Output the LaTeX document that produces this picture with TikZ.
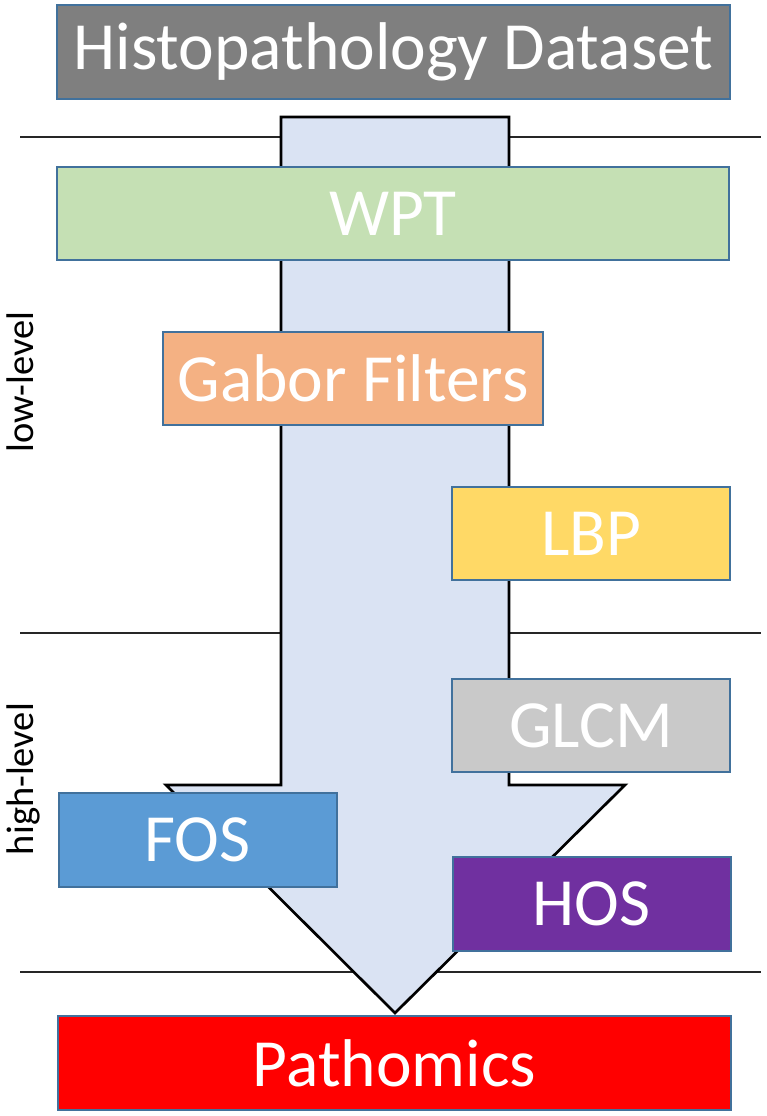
\documentclass[tikz,border=0pt]{standalone}
\usepackage{fontspec}
\setmainfont{Carlito}
\usepackage{tikz}
\usetikzlibrary{positioning}
\definecolor{boxborder}{RGB}{65,113,156}
\definecolor{datagray}{RGB}{127,127,127}
\definecolor{wptgreen}{RGB}{197,224,180}
\definecolor{gaborpeach}{RGB}{244,177,131}
\definecolor{lbpyellow}{RGB}{255,217,102}
\definecolor{glcmgray}{RGB}{201,201,201}
\definecolor{fosblue}{RGB}{91,155,213}
\definecolor{hospurple}{RGB}{112,48,160}
\definecolor{pathored}{RGB}{255,0,0}
\definecolor{flowblue}{RGB}{218,227,243}

\begin{document}
\begin{tikzpicture}[x=1pt, y=-1pt,
    featbox/.style={draw=boxborder, line width=2pt, inner sep=0pt,
        text=white, font=\fontsize{67.5}{70}\selectfont, minimum height=93},
    widebox/.style={featbox, minimum width=673},
    smallbox/.style={featbox, minimum width=278},
    levellbl/.style={font=\fontsize{38.5}{40}\selectfont, rotate=90, anchor=base}]

\useasboundingbox (0,0) rectangle (766,1116);

% === level separators ===
\foreach \ly in {137, 633, 972} {
    \draw[black!85, line width=1.3pt] (20,\ly) -- (761,\ly);
}
\node[levellbl] (low) at (33,382) {low-level};
\node[levellbl] (high) at (33,779) {high-level};

% === big flow arrow ===
\draw[fill=flowblue, line width=2.7pt, line join=miter]
    (281,117) -- (509,117) -- (509,785) -- (625,785) -- (395,1013)
    -- (166,785) -- (281,785) -- cycle;

% === feature boxes ===
\node[widebox, fill=datagray] (data) at (393.5,52) {Histopathology Dataset};
\node[widebox, fill=wptgreen, minimum width=672] (wpt) at (393,213.5) {WPT};
\node[featbox, fill=gaborpeach, minimum width=380] (gabor) at (353,378.5) {Gabor Filters};
\node[smallbox, fill=lbpyellow] (lbp) at (591,533.5) {LBP};
\node[smallbox, fill=glcmgray] (glcm) at (591,725.5) {GLCM};
\node[smallbox, fill=fosblue, minimum height=94] (fos) at (197.5,840) {FOS};
\node[smallbox, fill=hospurple, minimum height=94] (hos) at (591.5,904) {HOS};
\node[widebox, fill=pathored, minimum height=94] (patho) at (394.5,1063) {Pathomics};

\end{tikzpicture}
\end{document}
